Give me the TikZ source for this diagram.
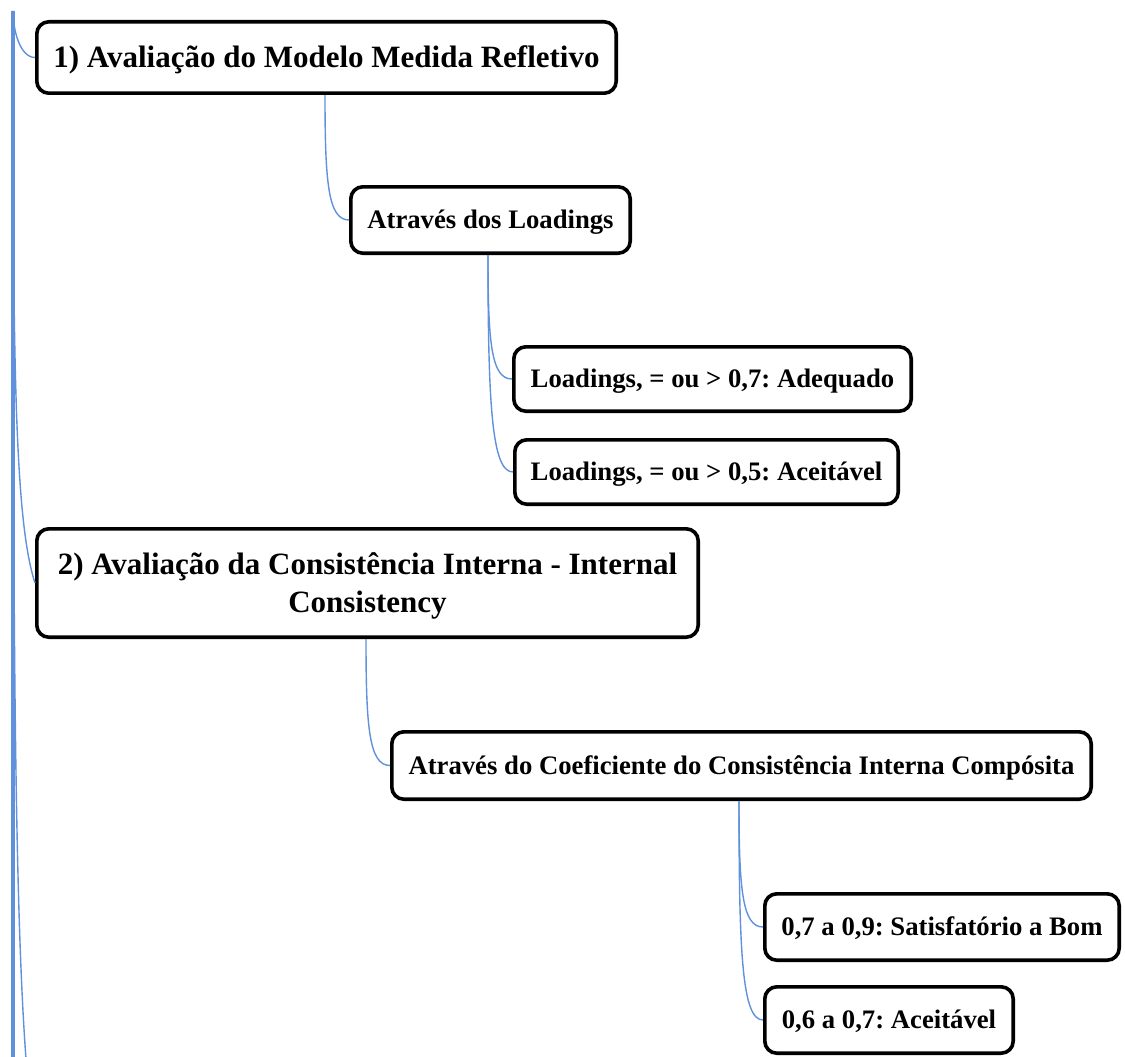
\documentclass[tikz,border=0pt]{standalone}
\usepackage{fontspec}
\setmainfont{Liberation Serif}
\usetikzlibrary{calc}
\definecolor{linkblue}{RGB}{95,145,220}
\frenchspacing
\tikzset{
  mapbox/.style={draw=black, line width=3.6pt, rounded corners=12pt, fill=white,
    inner sep=0pt, align=center, text=black},
  topbox/.style={mapbox, font=\fontsize{31}{38}\selectfont\bfseries\frenchspacing,
    text height=20.5pt, text depth=0pt},
  subbox/.style={mapbox, font=\fontsize{26.7}{32}\selectfont\bfseries\frenchspacing,
    text height=17.7pt, text depth=0pt},
  link/.style={draw=linkblue, line width=1.4pt},
  trunk/.style={draw=linkblue, line width=3.4pt},
}
\begin{document}
\begin{tikzpicture}[x=1pt, y=-1pt]
\useasboundingbox (0,0) rectangle (1125,1057);
\clip (0,0) rectangle (1125,1057);

% nodes
\node[topbox, minimum width=579.4pt, minimum height=71.4pt] (b1) at (326.5,57.5)
  {1) Avaliação do Modelo Medida Refletivo};
\node[subbox, minimum width=279.4pt, minimum height=66.4pt] (t2) at (490.5,220)
  {Através dos Loadings};
\node[subbox, minimum width=397.4pt, minimum height=64.4pt] (t3) at (712.5,379)
  {Loadings, = ou > 0,7: Adequado};
\node[subbox, minimum width=383.4pt, minimum height=64.4pt] (t4) at (706.5,472)
  {Loadings, = ou > 0,5: Aceitável};
\node[topbox, text height=58.5pt, text depth=0pt, minimum width=661.4pt, minimum height=108.4pt] (b2) at (367.5,583)
  {2) Avaliação da Consistência Interna - Internal\\ Consistency};
\node[subbox, minimum width=699.4pt, minimum height=67.4pt] (t6) at (741.5,765.5)
  {Através do Coeficiente do Consistência Interna Compósita};
\node[subbox, minimum width=354.4pt, minimum height=66.4pt] (t7) at (942,927)
  {0,7 a 0,9: Satisfatório a Bom};
\node[subbox, minimum width=248.4pt, minimum height=66.4pt] (t8) at (889,1020)
  {0,6 a 0,7: Aceitável};

% left trunk from an off-picture parent
\coordinate (root) at (13,11);
\coordinate (rootend) at (13,1070);
\coordinate (offA) at (35,1140);
\draw[trunk] (root) -- (rootend);
\draw[link] (root) .. controls +(0,19) and +(-15,0) .. (b1.west);
\draw[link] (root) .. controls +(0,339) and +(-21,-64) .. (b2.west);
\draw[link] (root) .. controls +(0,673) and +(-21,-125) .. (offA);

% branch starts
\coordinate (s1) at ($(b1.south -| t2.west)+(-24,0)$);
\coordinate (s2) at ($(t2.south -| t3.west)+(-24,0)$);
\coordinate (s3) at ($(b2.south -| t6.west)+(-24,0)$);
\coordinate (s4) at ($(t6.south -| t7.west)+(-24,0)$);

\draw[link] (s1) .. controls +(0,87) and +(-21,0) .. (t2.west);
\draw[link] (s2) .. controls +(0,87) and +(-21,0) .. (t3.west);
\draw[link] (s2) .. controls +(0,152) and +(-21,0) .. (t4.west);
\draw[link] (s3) .. controls +(0,88) and +(-21,0) .. (t6.west);
\draw[link] (s4) .. controls +(0,87) and +(-21,0) .. (t7.west);
\draw[link] (s4) .. controls +(0,152) and +(-21,0) .. (t8.west);
\end{tikzpicture}
\end{document}
